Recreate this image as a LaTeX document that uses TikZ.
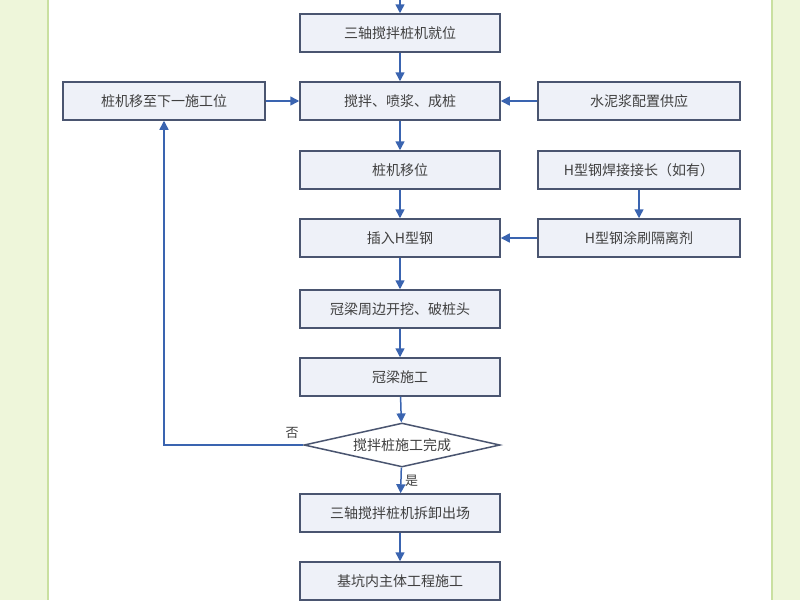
\documentclass[tikz,border=0pt]{standalone}
\usepackage{fontspec}
\newfontfamily\cjk{Noto Sans CJK SC}
\usetikzlibrary{shapes.geometric,arrows.meta}
\definecolor{edge}{HTML}{4A5570}
\definecolor{flow}{HTML}{3A64B0}
\definecolor{boxfill}{HTML}{EEF1F8}
\definecolor{margin}{HTML}{EEF6DA}
\definecolor{marginline}{HTML}{C9E0A0}
\begin{document}
\begin{tikzpicture}[x=1pt, y=-1pt,
    stage/.style={rectangle, draw=edge, fill=boxfill, line width=1.5pt, minimum width=200pt, minimum height=38pt, font=\cjk\fontsize{14}{16}\selectfont, text=black!75},
    check/.style={diamond, draw=edge, fill=white, line width=1.5pt, aspect=4.4, minimum width=196pt, minimum height=44pt, inner sep=0pt, font=\cjk\fontsize{14}{16}\selectfont, text=black!75},
    go/.style={-{Triangle[length=9pt, width=9pt]}, draw=flow, line width=1.5pt}]
  \useasboundingbox (0,0) rectangle (800,600);
  \clip (0,0) rectangle (800,600);
  \fill[margin] (0,0) rectangle (48,600);
  \fill[margin] (772,0) rectangle (800,600);
  \draw[marginline, line width=1.5pt] (48,0) -- (48,600);
  \draw[marginline, line width=1.5pt] (772,0) -- (772,600);

  \coordinate (top) at (400,0);
  \node[stage] (s1) at (400,33) {三轴搅拌桩机就位};
  \node[stage] (s2) at (400,101) {搅拌、喷浆、成桩};
  \node[stage] (s3) at (400,170) {桩机移位};
  \node[stage] (s4) at (400,238) {插入H型钢};
  \node[stage] (s5) at (400,309) {冠梁周边开挖、破桩头};
  \node[stage] (s6) at (400,377) {冠梁施工};
  \node[check] (done) at (402,445) {搅拌桩施工完成};
  \node[stage] (s7) at (400,513) {三轴搅拌桩机拆卸出场};
  \node[stage] (s8) at (400,581) {基坑内主体工程施工};
  \node[stage, minimum width=202pt] (next) at (164,101) {桩机移至下一施工位};
  \node[stage, minimum width=202pt] (slurry) at (639,101) {水泥浆配置供应};
  \node[stage, minimum width=202pt] (weld) at (639,170) {H型钢焊接接长（如有）};
  \node[stage, minimum width=202pt] (coat) at (639,238) {H型钢涂刷隔离剂};

  \draw[go] (top) -- (s1);
  \draw[go] (s1) -- (s2);
  \draw[go] (s2) -- (s3);
  \draw[go] (s3) -- (s4);
  \draw[go] (s4) -- (s5);
  \draw[go] (s5) -- (s6);
  \draw[go] (s6) -- (done);
  \draw[go] (done) -- node[right, font=\cjk\fontsize{13}{15}\selectfont, text=black!75] {是} (s7);
  \draw[go] (s7) -- (s8);
  \draw[go] (next) -- (s2);
  \draw[go] (slurry) -- (s2);
  \draw[go] (coat) -- (s4);
  \draw[go] (weld) -- (coat);
  \draw[go] (done.west) -- node[pos=0.08, above, yshift=2pt, font=\cjk\fontsize{13}{15}\selectfont, text=black!75] {否} (done.west -| next) -- (next);
\end{tikzpicture}
\end{document}
